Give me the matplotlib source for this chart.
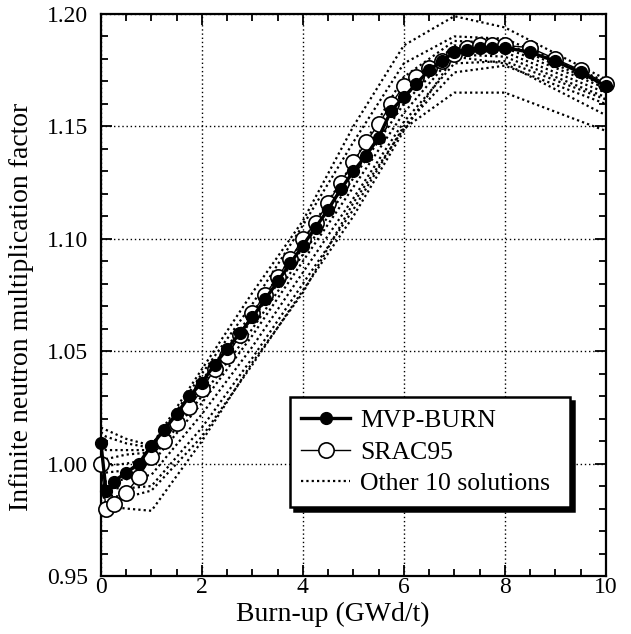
#!/usr/bin/env python3
"""
Infinite neutron multiplication factor vs burn-up:
MVP-BURN, SRAC95 and the other 10 benchmark solutions.
"""

import matplotlib
matplotlib.use("Agg")
import matplotlib.pyplot as plt
from matplotlib.ticker import MultipleLocator, FormatStrFormatter

# burn-up steps of the two detailed solutions (GWd/t)
burnup = [0, 0.1, 0.25, 0.5, 0.75, 1.0, 1.25, 1.5, 1.75, 2.0, 2.25, 2.5,
          2.75, 3.0, 3.25, 3.5, 3.75, 4.0, 4.25, 4.5, 4.75, 5.0, 5.25,
          5.5, 5.75, 6.0, 6.25, 6.5, 6.75, 7.0, 7.25, 7.5, 7.75, 8.0,
          8.5, 9.0, 9.5, 10.0]

mvp_burn = [1.009, 0.988, 0.992, 0.996, 1.000, 1.008, 1.015, 1.022, 1.030,
            1.036, 1.044, 1.051, 1.058, 1.065, 1.073, 1.081, 1.089, 1.097,
            1.105, 1.113, 1.122, 1.130, 1.137, 1.145, 1.157, 1.163, 1.169,
            1.175, 1.179, 1.183, 1.184, 1.185, 1.185, 1.185, 1.183, 1.179,
            1.174, 1.168]

srac95 = [1.000, 0.980, 0.982, 0.987, 0.994, 1.003, 1.010, 1.018, 1.025,
          1.033, 1.042, 1.048, 1.057, 1.067, 1.075, 1.083, 1.091, 1.100,
          1.107, 1.116, 1.125, 1.134, 1.143, 1.151, 1.160, 1.168, 1.172,
          1.176, 1.179, 1.182, 1.185, 1.186, 1.186, 1.186, 1.185, 1.180,
          1.175, 1.169]

# coarser steps of the other 10 solutions
burnup_other = [0, 0.1, 0.5, 1, 2, 3, 4, 5, 6, 7, 8, 10]

other_solutions = [
    [1.016, 1.015, 1.011, 1.008, 1.042, 1.076, 1.108, 1.150, 1.186, 1.199, 1.194, 1.171],
    [1.014, 1.012, 1.009, 1.007, 1.040, 1.071, 1.106, 1.143, 1.178, 1.190, 1.189, 1.170],
    [1.008, 1.006, 1.006, 1.006, 1.037, 1.067, 1.099, 1.134, 1.172, 1.188, 1.187, 1.168],
    [1.003, 1.002, 1.004, 1.005, 1.035, 1.064, 1.096, 1.130, 1.165, 1.186, 1.185, 1.167],
    [1.000, 0.999, 1.000, 1.002, 1.030, 1.060, 1.093, 1.127, 1.160, 1.184, 1.183, 1.165],
    [0.997, 0.996, 0.997, 1.000, 1.027, 1.057, 1.090, 1.123, 1.156, 1.182, 1.181, 1.163],
    [0.994, 0.992, 0.993, 0.995, 1.022, 1.052, 1.085, 1.118, 1.152, 1.178, 1.179, 1.162],
    [0.990, 0.989, 0.989, 0.990, 1.016, 1.047, 1.080, 1.113, 1.150, 1.174, 1.177, 1.160],
    [0.993, 0.986, 0.985, 0.988, 1.012, 1.044, 1.077, 1.110, 1.148, 1.181, 1.178, 1.155],
    [0.990, 0.981, 0.980, 0.979, 1.010, 1.045, 1.076, 1.116, 1.149, 1.165, 1.165, 1.148],
]

x_ticks = [0, 2, 4, 6, 8, 10]
y_ticks = [0.95, 1.00, 1.05, 1.10, 1.15, 1.20]

plt.rcParams["font.family"] = ["Liberation Serif", "DejaVu Serif"]

fig = plt.figure(figsize=(6.31, 6.34), dpi=100)
ax = fig.add_axes([0.160, 0.0915, 0.800, 0.8865])

# other 10 solutions, dotted
for i, vals in enumerate(other_solutions):
    ax.plot(burnup_other, vals, color="black", linewidth=1.6,
            linestyle=(0, (1, 1.4)),
            label="Other 10 solutions" if i == 0 else None, zorder=2)

# SRAC95: open circles, thin line
ax.plot(burnup, srac95, color="black", linewidth=1.0, marker="o",
        markersize=11, markerfacecolor="white", markeredgecolor="black",
        markeredgewidth=1.2, label="SRAC95", clip_on=False, zorder=3)

# MVP-BURN: filled circles, thick line
ax.plot(burnup, mvp_burn, color="black", linewidth=2.4, marker="o",
        markersize=8.5, markerfacecolor="black", markeredgecolor="black",
        label="MVP-BURN", clip_on=False, zorder=4)

ax.set_xlim(0, 10)
ax.set_ylim(0.95, 1.20)
ax.set_xticks(x_ticks)
ax.set_yticks(y_ticks)
ax.yaxis.set_major_formatter(FormatStrFormatter("%.2f"))
ax.xaxis.set_minor_locator(MultipleLocator(0.5))
ax.yaxis.set_minor_locator(MultipleLocator(0.01))

ax.tick_params(which="both", direction="in", top=True, right=True,
               labelsize=17, width=1.3)
ax.tick_params(axis="y", which="major", pad=9)
ax.tick_params(axis="x", which="major", pad=1)
ax.tick_params(which="major", length=8)
ax.tick_params(which="minor", length=5)

ax.grid(True, which="major", color="black", linestyle=(0, (1, 2)),
        linewidth=1.0)

for s in ax.spines.values():
    s.set_linewidth(1.6)

ax.set_xlabel("Burn-up (GWd/t)", fontsize=20)
ax.set_ylabel("Infinite neutron multiplication factor", fontsize=20)
ax.xaxis.set_label_coords(0.459, -0.046)
ax.yaxis.set_label_coords(-0.132, 0.479)

# legend order as in the figure
handles, labels = ax.get_legend_handles_labels()
order = [labels.index("MVP-BURN"), labels.index("SRAC95"),
         labels.index("Other 10 solutions")]
leg = ax.legend([handles[i] for i in order], [labels[i] for i in order],
                loc="upper left", bbox_to_anchor=(0.374, 0.121, 0.555, 0.197),
                mode="expand", fontsize=18.5, frameon=True, fancybox=False,
                handlelength=1.9, handletextpad=0.4, borderpad=0.45,
                labelspacing=0.34, borderaxespad=0.0,
                shadow={"color": "black", "alpha": 1.0, "ox": 3, "oy": -3})
leg.get_frame().set_edgecolor("black")
leg.get_frame().set_linewidth(1.8)
leg.get_frame().set_alpha(1.0)

fig.savefig("out.png", dpi=100)
